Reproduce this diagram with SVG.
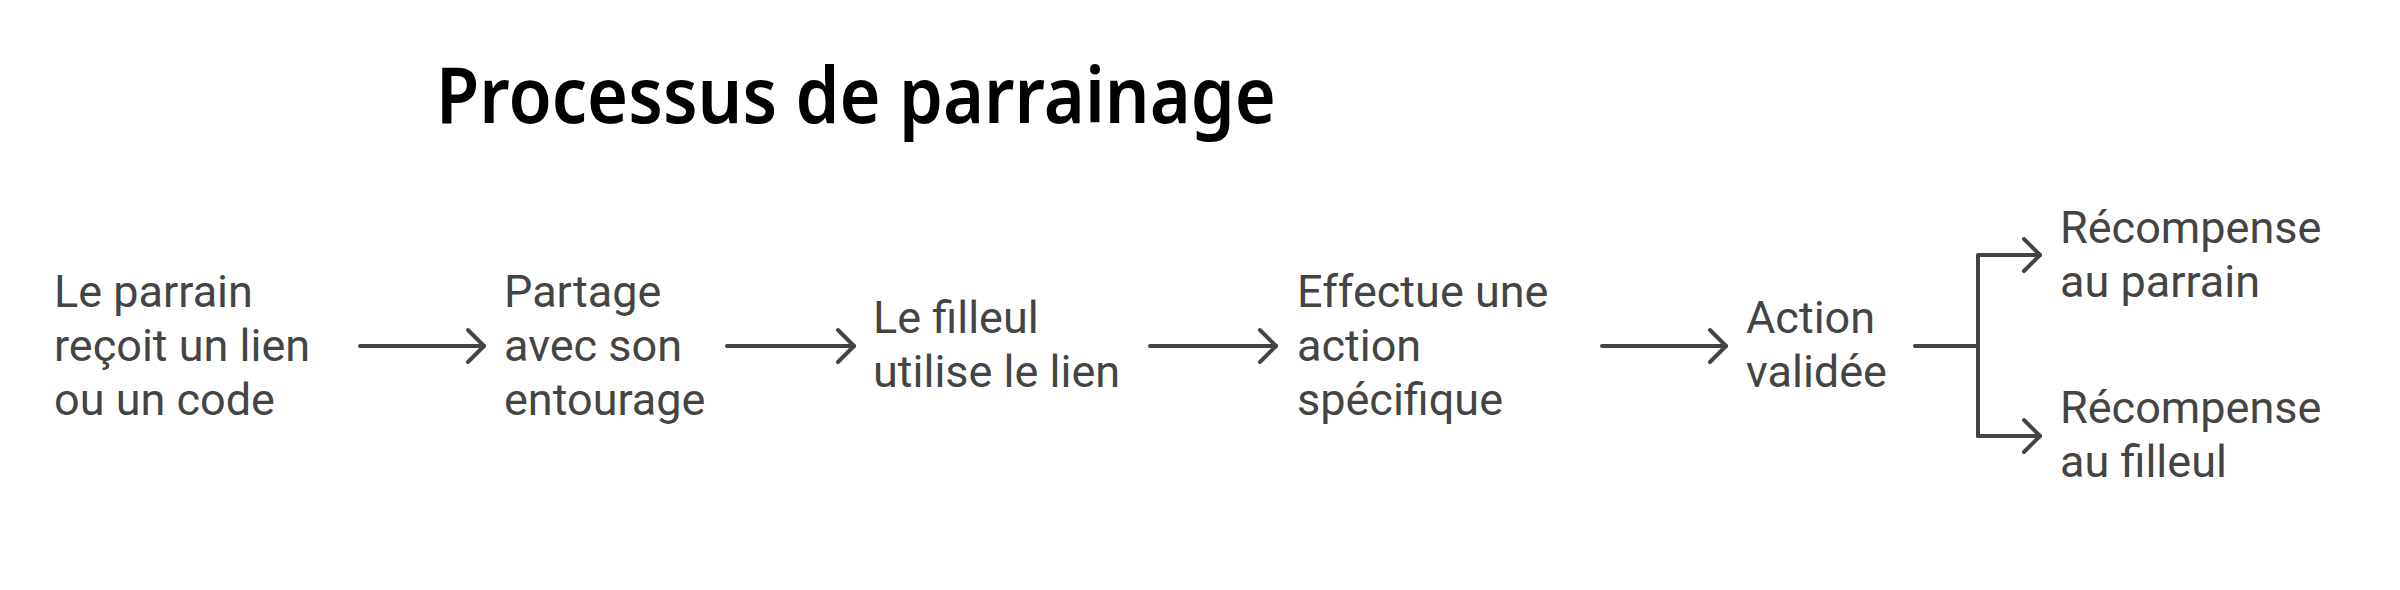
<svg xmlns="http://www.w3.org/2000/svg" width="2400" height="590" viewBox="0 0 2400 590">
<style>
.t{font-family:Roboto,"Liberation Sans",sans-serif;font-size:45px;fill:#444444}
.title{font-family:"Noto Sans","Liberation Sans",sans-serif;font-size:78px;font-weight:600;fill:#000000}
.c{fill:none;stroke:#444444;stroke-width:4;stroke-linecap:round;stroke-linejoin:round}
</style>
<defs>
<marker id="arr" markerUnits="userSpaceOnUse" viewBox="-20 -20 24 40" markerWidth="24" markerHeight="40" refX="0" refY="0" orient="auto">
<path d="M-16,-16 L0,0 L-16,16" fill="none" stroke="#444444" stroke-width="4" stroke-linecap="round" stroke-linejoin="round"/>
</marker>
</defs>
<rect width="2400" height="590" fill="#ffffff"/>
<text class="title" x="436" y="123" textLength="840" lengthAdjust="spacingAndGlyphs">Processus de parrainage</text>
<g id="n1"><text class="t" x="54" y="307">Le parrain</text><text class="t" x="54" y="361">reçoit un lien</text><text class="t" x="54" y="415">ou un code</text></g>
<g id="n2"><text class="t" x="504" y="307">Partage</text><text class="t" x="504" y="361">avec son</text><text class="t" x="504" y="415">entourage</text></g>
<g id="n3"><text class="t" x="873" y="333">Le filleul</text><text class="t" x="873" y="387">utilise le lien</text></g>
<g id="n4"><text class="t" x="1297" y="307">Effectue une</text><text class="t" x="1297" y="361">action</text><text class="t" x="1297" y="415">spécifique</text></g>
<g id="n5"><text class="t" x="1746" y="333">Action</text><text class="t" x="1746" y="387">validée</text></g>
<g id="n6"><text class="t" x="2060" y="243">Récompense</text><text class="t" x="2060" y="297">au parrain</text></g>
<g id="n7"><text class="t" x="2060" y="423">Récompense</text><text class="t" x="2060" y="477">au filleul</text></g>
<g id="connectors">
<path class="c" d="M360,346 H484" marker-end="url(#arr)"/>
<path class="c" d="M727,346 H854" marker-end="url(#arr)"/>
<path class="c" d="M1150,346 H1276" marker-end="url(#arr)"/>
<path class="c" d="M1602,346 H1726" marker-end="url(#arr)"/>
<path class="c" d="M1915,346 H1978"/>
<path class="c" d="M1978,436 V255 H2040" marker-end="url(#arr)"/>
<path class="c" d="M1978,346 V436 H2040" marker-end="url(#arr)"/>
</g>
</svg>
